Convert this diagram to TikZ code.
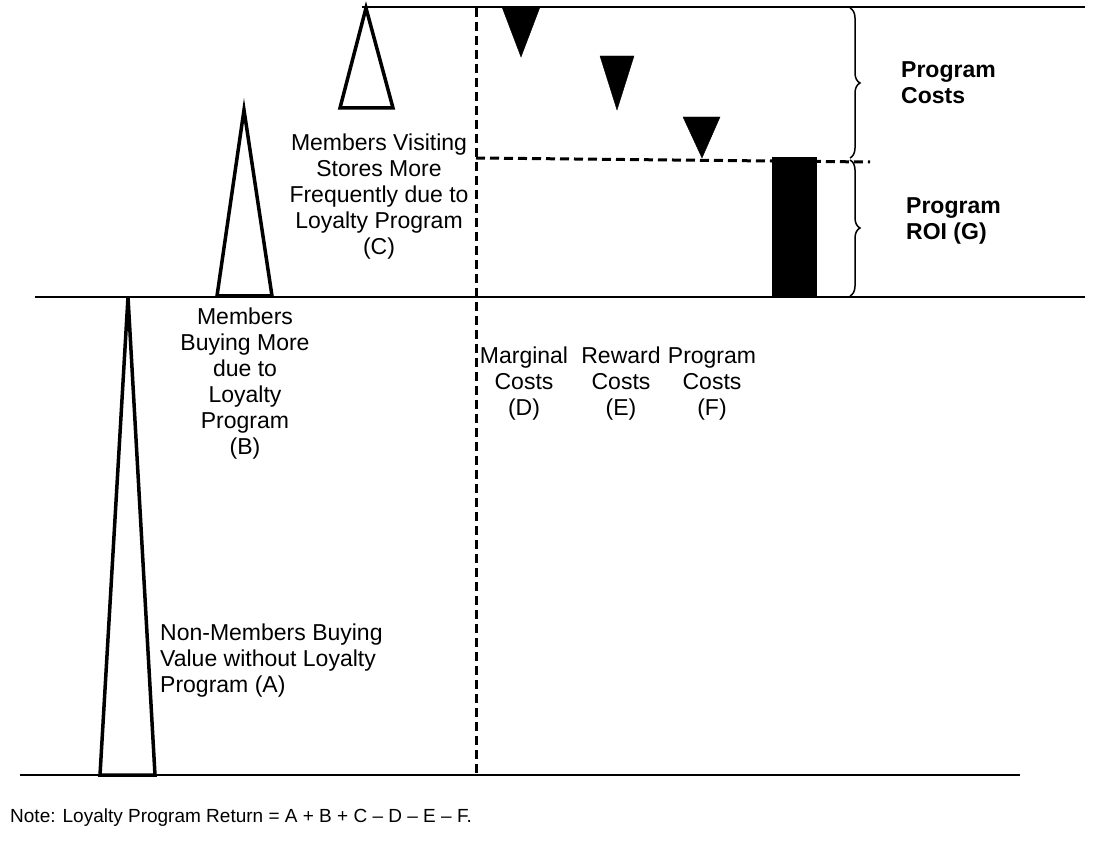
\documentclass[tikz,border=0pt]{standalone}
\usepackage{fontspec}
\setmainfont{Liberation Sans}
\usetikzlibrary{decorations.pathreplacing}
\begin{document}
\begin{tikzpicture}[x=1pt,y=-1pt,
  ln/.style={line width=1.5pt},
  tri/.style={line width=3.5pt,line join=miter},
  ftri/.style={fill=black,draw=black},
  dsh/.style={line width=3pt,dash pattern=on 9pt off 5pt},
  lab/.style={align=center,font=\fontsize{23}{26}\selectfont,inner sep=0pt},
  brc/.style={decorate,decoration={brace,amplitude=10pt},line width=1.5pt}]
\useasboundingbox (0,0) rectangle (1104,842);
\draw[ln] (362,7) -- (1085,7);
\draw[ln] (35,297) -- (1085,297);
\draw[ln] (20,775) -- (1020,775);
\draw[dsh] (476,8) -- (476,775);
\draw[dsh] (476,158) -- (870,162);
\draw[tri] (100,775) -- (128,297) -- (155,775) -- cycle;
\draw[tri] (217,296) -- (244,110) -- (272,296) -- cycle;
\draw[tri] (340,108) -- (366,8) -- (393,108) -- cycle;
\fill[ftri] (502,7) -- (540,7) -- (521,57) -- cycle;
\fill[ftri] (600,56) -- (634,56) -- (617,110) -- cycle;
\fill[ftri] (683,117) -- (720,117) -- (702,158) -- cycle;
\fill (772,157) rectangle (817,297);
\draw[brc] (850,8) -- (850,158);
\draw[brc] (850,160) -- (850,296);
\node[lab,font=\fontsize{23}{26}\selectfont\bfseries,align=left,anchor=west] (pc) at (901,83) {Program\\Costs};
\node[lab,font=\fontsize{23}{26}\selectfont\bfseries,align=left,anchor=west] (roi) at (906,221) {Program\\ROI (G)};
\node[lab] (c) at (379,197) {Members Visiting\\Stores More\\Frequently due to\\Loyalty Program\\(C)};
\node[lab] (b) at (245,384) {Members\\Buying More\\due to\\Loyalty\\Program\\(B)};
\node[lab,align=left,anchor=west] (a) at (160,661) {Non-Members Buying\\Value without Loyalty\\Program (A)};
\node[lab] (d) at (524,384) {Marginal\\Costs\\(D)};
\node[lab] (e) at (621,384) {Reward\\Costs\\(E)};
\node[lab] (f) at (712,384) {Program\\Costs\\(F)};
\node[lab,anchor=west,font=\fontsize{19}{22}\selectfont] (note) at (10,818) {Note: Loyalty Program Return = A + B + C – D – E – F.};
\end{tikzpicture}
\end{document}
